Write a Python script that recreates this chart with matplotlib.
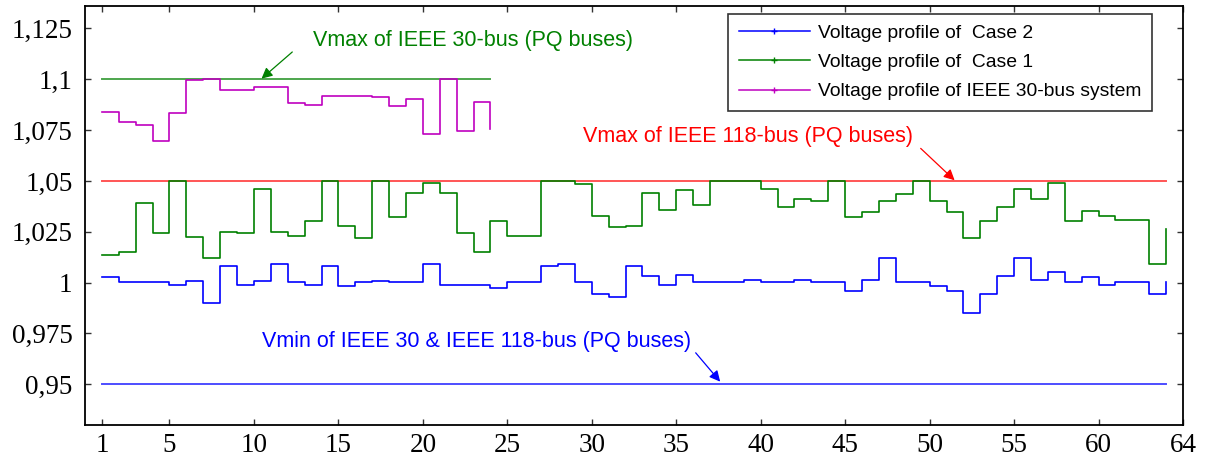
import matplotlib
matplotlib.use("Agg")
import matplotlib.pyplot as plt
from matplotlib.lines import Line2D
import numpy as np

# ---- data ----
bus_118 = list(range(1, 65))
bus_30 = list(range(1, 25))

case2 = [1.0026, 1.0003, 1.0003, 1.0003, 0.9989, 1.0010, 0.9900, 1.0083, 0.9989, 1.0010,
         1.0090, 1.0003, 0.9989, 1.0083, 0.9982, 1.0003, 1.0010, 1.0003, 1.0003, 1.0090,
         0.9989, 0.9989, 0.9989, 0.9974, 1.0003, 1.0003, 1.0083, 1.0092, 1.0003, 0.9945,
         0.9931, 1.0083, 1.0033, 0.9989, 1.0039, 1.0003, 1.0003, 1.0003, 1.0011, 1.0003,
         1.0003, 1.0011, 1.0003, 1.0003, 0.9959, 1.0011, 1.0121, 1.0003, 1.0003, 0.9982,
         0.9959, 0.9850, 0.9945, 1.0033, 1.0121, 1.0011, 1.0054, 1.0003, 1.0026, 0.9989,
         1.0003, 1.0003, 0.9945, 1.0003]

case1 = [1.0134, 1.0149, 1.0391, 1.0245, 1.0500, 1.0222, 1.0121, 1.0250, 1.0244, 1.0461,
         1.0250, 1.0229, 1.0302, 1.0500, 1.0279, 1.0221, 1.0500, 1.0324, 1.0440, 1.0492,
         1.0440, 1.0245, 1.0149, 1.0302, 1.0229, 1.0229, 1.0500, 1.0500, 1.0485, 1.0330,
         1.0273, 1.0279, 1.0440, 1.0359, 1.0454, 1.0382, 1.0500, 1.0500, 1.0500, 1.0462,
         1.0374, 1.0410, 1.0403, 1.0500, 1.0324, 1.0347, 1.0403, 1.0435, 1.0500, 1.0403,
         1.0347, 1.0221, 1.0302, 1.0374, 1.0461, 1.0410, 1.0492, 1.0302, 1.0351, 1.0330,
         1.0309, 1.0309, 1.0090, 1.0263]

ieee30 = [1.0840, 1.0789, 1.0775, 1.0695, 1.0835, 1.0994, 1.1000, 1.0945, 1.0945, 1.0964,
          1.0964, 1.0884, 1.0871, 1.0920, 1.0920, 1.0920, 1.0915, 1.0869, 1.0905, 1.0730,
          1.1000, 1.0747, 1.0889, 1.0753]

vmax_30 = 1.10
vmax_118 = 1.05
vmin = 0.95

xtick_pos = [1, 5, 10, 15, 20, 25, 30, 35, 40, 45, 50, 55, 60, 65]
xtick_labels = ["1", "5", "10", "15", "20", "25", "30", "35", "40", "45", "50", "55", "60", "64"]
ytick_pos = [0.95, 0.975, 1.0, 1.025, 1.05, 1.075, 1.1, 1.125]
ytick_labels = ["0,95", "0,975", "1", "1,025", "1,05", "1,075", "1,1", "1,125"]

legend_labels = ["Voltage profile of  Case 2", "Voltage profile of  Case 1",
                 "Voltage profile of IEEE 30-bus system"]

# ---- colours ----
c_blue = "#0000ff"
c_green = "#008000"
c_mag = "#bf00bf"
c_red = "#ff0000"

fig = plt.figure(figsize=(12.11, 4.63), dpi=100)
ax = fig.add_axes([0.0702, 0.0821, 0.9067, 0.9049])

# reference limit lines
ax.plot([bus_30[0], bus_30[-1]], [vmax_30, vmax_30], color="#4da64d", lw=1.4)
ax.plot([bus_118[0], bus_118[-1]], [vmax_118, vmax_118], color="#ff5555", lw=1.4)
ax.plot([bus_118[0], bus_118[-1]], [vmin, vmin], color="#4d4dff", lw=1.4)

# profiles
ax.step(bus_118, case2, where="post", color=c_blue, lw=1.2)
ax.step(bus_118, case1, where="post", color=c_green, lw=1.2)
ax.step(bus_30, ieee30, where="post", color=c_mag, lw=1.2)

ax.set_xlim(0, 65)
ax.set_ylim(0.93, 1.136)
ax.set_xticks(xtick_pos)
ax.set_xticklabels(xtick_labels)
ax.set_yticks(ytick_pos)
ax.set_yticklabels(ytick_labels)

for lab in ax.get_xticklabels() + ax.get_yticklabels():
    lab.set_fontfamily("Liberation Serif")
    lab.set_fontsize(19.5)

ax.tick_params(direction="in", top=True, right=True, length=4, width=1,
               color="#333333")
ax.tick_params(axis="y", pad=9)
ax.tick_params(axis="x", pad=6)
for sp in ax.spines.values():
    sp.set_linewidth(1.3)

sans = "Liberation Sans"
# annotations
ax.text(13.5, 1.1191, "Vmax of IEEE 30-bus (PQ buses)", color=c_green,
        fontsize=15.5, family=sans, ha="left", va="center")
ax.annotate("", xy=(10.45, 1.1003), xytext=(12.27, 1.1134),
            arrowprops=dict(arrowstyle="-|>", color=c_green, lw=0.9,
                            mutation_scale=16, shrinkA=0, shrinkB=0))

ax.text(29.5, 1.0717, "Vmax of IEEE 118-bus (PQ buses)", color=c_red,
        fontsize=15.5, family=sans, ha="left", va="center")
ax.annotate("", xy=(51.48, 1.0503), xytext=(49.47, 1.066),
            arrowprops=dict(arrowstyle="-|>", color=c_red, lw=0.9,
                            mutation_scale=16, shrinkA=0, shrinkB=0))

ax.text(10.45, 0.9712, "Vmin of IEEE 30 & IEEE 118-bus (PQ buses)", color=c_blue,
        fontsize=15.5, family=sans, ha="left", va="center")
ax.annotate("", xy=(37.6, 0.9513), xytext=(36.15, 0.9655),
            arrowprops=dict(arrowstyle="-|>", color=c_blue, lw=0.9,
                            mutation_scale=16, shrinkA=0, shrinkB=0))

# legend
handles = [Line2D([], [], color=c, lw=1.1, marker="+", markersize=5)
           for c in (c_blue, c_green, c_mag)]
leg = ax.legend(handles, legend_labels, loc="upper left",
                bbox_to_anchor=((728 - 85) / 1098, 1 - (14 - 6) / 419),
                prop={"family": sans, "size": 13.9}, frameon=True,
                fancybox=False, edgecolor="black", handlelength=3.7,
                handletextpad=0.42, labelspacing=0.6, borderpad=0.55,
                borderaxespad=0)
leg.get_frame().set_linewidth(1.2)

fig.savefig("out.png", dpi=100)
